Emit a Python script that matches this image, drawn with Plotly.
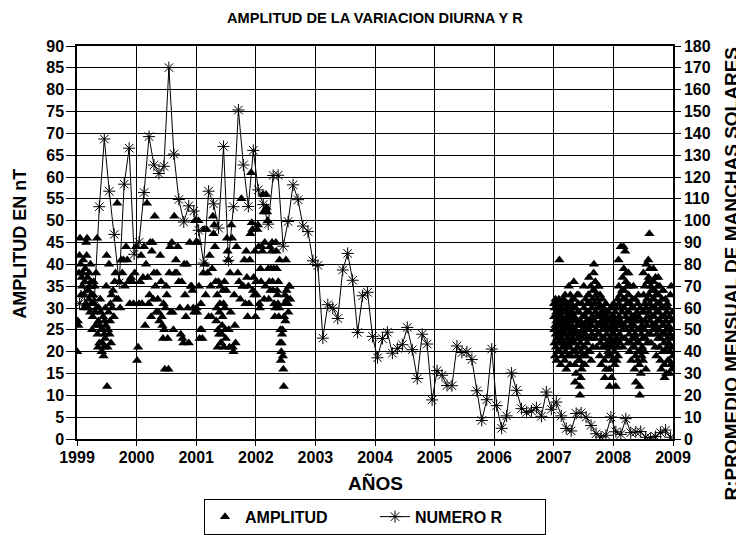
import plotly.graph_objects as go

# ---------------- DATA ----------------
# Monthly sunspot number R (Jan 1999 .. Dec 2008)
r_1999 = [62.0, 66.3, 68.9, 63.9, 106.4, 137.4, 113.5, 93.7, 71.5, 116.7, 133.2, 84.6]
r_2000 = [90.1, 112.9, 138.5, 125.5, 121.6, 124.9, 170.1, 130.5, 109.7, 99.4, 106.8, 104.4]
r_2001 = [95.6, 80.6, 113.5, 107.7, 96.6, 134.0, 81.8, 106.4, 150.7, 125.5, 106.5, 132.2]
r_2002 = [114.1, 107.4, 98.4, 120.7, 120.8, 88.3, 99.6, 116.4, 109.6, 97.5, 95.0, 81.6]
r_2003 = [79.5, 46.2, 61.5, 60.0, 55.2, 77.4, 85.0, 72.7, 48.8, 65.6, 67.2, 47.0]
r_2004 = [37.2, 46.0, 48.9, 39.3, 41.5, 43.2, 51.1, 40.9, 27.7, 48.0, 43.5, 17.9]
r_2005 = [31.3, 29.2, 24.5, 24.4, 42.6, 39.6, 39.9, 36.4, 22.1, 8.5, 18.0, 41.2]
r_2006 = [15.3, 4.9, 10.6, 30.2, 22.3, 13.9, 12.2, 12.9, 14.4, 10.4, 21.5, 13.6]
r_2007 = [16.9, 10.6, 4.8, 3.7, 11.7, 12.0, 10.0, 6.2, 2.4, 0.9, 1.7, 10.1]
r_2008 = [3.3, 2.1, 9.3, 2.9, 3.2, 3.4, 0.8, 0.5, 1.1, 2.9, 4.1, 0.8]
r_years = [1999, 2000, 2001, 2002, 2003, 2004, 2005, 2006, 2007, 2008]
r_series = [r_1999, r_2000, r_2001, r_2002, r_2003, r_2004, r_2005, r_2006, r_2007, r_2008]

# Daily amplitude of the diurnal variation (nT), grouped by month (one list per month)
amp_1999 = [
    [20, 27, 26, 38, 42, 46, 40, 33, 37],
    [35, 38, 41, 33, 30, 36, 39, 31, 45, 42],
    [46, 37, 34, 30, 32, 38, 35, 29, 40, 36, 31, 33],
    [25, 28, 33, 36, 31, 35, 29, 26, 38, 30],
    [46, 24, 21, 27, 30, 22, 26, 32, 29, 25, 20],
    [20, 22, 25, 28, 19, 21, 24, 27, 23, 30, 26, 35, 42],
    [12, 21, 25, 29, 40, 24, 27, 31, 22, 33],
    [30, 34, 28, 36, 38, 32],
    [54, 32, 36, 30, 41],
    [38, 41, 35, 44],
    [41, 36, 31, 37],
    [36, 31, 38, 44],
]
amp_2000 = [
    [18, 21, 31, 36, 42],
    [31, 37, 44, 26, 40],
    [54, 37, 31, 33, 45, 28],
    [43, 45, 32, 38, 51, 35, 29],
    [38, 32, 29, 27, 42, 36],
    [28, 26, 23, 31, 25, 16, 30, 35],
    [33, 23, 16, 38, 44, 29],
    [45, 29, 25, 51, 38, 41],
    [38, 44, 36, 30, 24],
    [36, 23, 22, 40, 33, 28],
    [40, 30, 22, 45, 35],
    [35, 34, 30, 29, 50, 45],
]
amp_2001 = [
    [30, 29, 45, 50, 35, 23, 25, 31],
    [25, 23, 38, 48, 40, 33],
    [48, 38, 28, 42, 35],
    [28, 39, 51, 47, 49, 44, 36],
    [27, 30, 33, 21, 25, 36, 24, 29, 31, 35, 22],
    [22, 24, 26, 28, 34, 31, 21, 36, 30, 25, 23],
    [34, 46, 43, 41, 25, 21, 38, 29],
    [49, 46, 21, 20, 33, 26, 22],
    [44, 38, 36, 32],
    [55, 35, 35, 41, 31],
    [43, 37, 28, 35, 31, 41, 47],
    [61, 49.5, 48, 34, 37, 33, 43, 28],
]
amp_2002 = [
    [36, 33, 48, 49, 44, 31, 30, 39],
    [36, 44, 43, 56, 52, 32, 45, 35],
    [56, 53, 52, 50, 39, 32, 36, 44, 34],
    [39, 43, 45, 36, 34, 39, 31, 28, 30],
    [45, 43, 39, 34, 33, 31, 36, 28, 30, 41, 22, 25],
    [18, 20, 22, 24, 25, 19, 16, 12, 28, 31, 33, 27],
    [41, 34, 32, 31, 29, 35, 35, 32],
]
amp_2007 = [
    [31, 28, 25, 22, 30, 19, 26, 32, 24, 21, 29, 27, 18, 23, 31, 25, 20, 28, 24, 30, 22, 26],
    [32, 29, 41, 24, 20, 27, 31, 17, 22, 26, 30, 23, 28, 19, 25, 21, 29, 24, 27, 32],
    [31, 26, 22, 18, 29, 33, 24, 20, 27, 30, 16, 25, 21, 28, 23, 31, 19, 26, 29, 22],
    [35, 30, 27, 24, 21, 17, 33, 28, 25, 19, 31, 22, 26, 29, 23, 32, 20, 27, 24, 30],
    [36, 32, 28, 22, 17, 13, 25, 30, 20, 15, 27, 24, 19, 33, 26, 21, 29, 23, 31, 18],
    [33, 29, 24, 18, 12, 10, 22, 27, 14, 20, 26, 31, 16, 23, 19, 25, 28, 21, 17, 24],
    [35, 30, 26, 21, 17, 28, 24, 32, 19, 23, 29, 27, 22, 25, 31, 20, 33, 26],
    [33, 37, 29, 25, 20, 31, 27, 23, 35, 18, 26, 30, 24, 28, 32, 21, 34, 27],
    [38, 40, 34, 31, 27, 23, 36, 29, 25, 33, 21, 28, 30, 26, 32, 24, 35, 28],
    [35, 31, 28, 24, 19, 33, 26, 22, 30, 17, 27, 29, 23, 25, 32, 21, 28, 26],
    [30, 27, 23, 18, 14, 25, 29, 21, 31, 16, 26, 24, 22, 28, 19, 27, 25, 20],
    [29, 25, 21, 16, 12, 27, 23, 30, 19, 26, 22, 14, 24, 28, 18, 25, 21, 27],
]
amp_2008 = [
    [31, 28, 24, 20, 17, 26, 29, 22, 12, 25, 30, 18, 23, 27, 21, 32, 19, 26],
    [41, 35, 31, 28, 24, 22, 33, 27, 44, 30, 26, 23, 29, 34, 25, 37, 21, 32],
    [44, 39, 34, 30, 26, 23, 43, 32, 28, 36, 25, 38, 31, 27, 35, 29, 22, 33],
    [38, 33, 29, 24, 20, 35, 27, 31, 22, 26, 18, 30, 25, 28, 23, 32, 21, 27],
    [35, 30, 26, 21, 16, 28, 24, 32, 19, 13, 23, 27, 22, 29, 25, 18, 31, 20],
    [33, 28, 22, 17, 12, 10, 25, 30, 20, 15, 27, 24, 19, 26, 21, 29, 23, 18],
    [38, 33, 29, 25, 20, 35, 31, 27, 23, 16, 30, 40, 26, 32, 22, 28, 36, 24],
    [41, 37, 33, 29, 47, 39, 31, 27, 24, 35, 22, 30, 34, 28, 26, 36, 32, 25],
    [39, 36, 32, 28, 25, 34, 30, 21, 37, 26, 33, 19, 29, 24, 31, 27, 35, 23],
    [37, 33, 29, 25, 21, 35, 31, 27, 18, 23, 30, 16, 28, 24, 32, 26, 20, 34],
    [34, 30, 26, 22, 17, 14, 28, 24, 32, 20, 27, 15, 25, 29, 21, 31, 23, 18],
    [30, 26, 22, 18, 15, 28, 24, 20, 33, 17, 25, 35, 21, 27, 16, 23, 29, 19],
]
amp_years = [1999, 2000, 2001, 2002, 2007, 2008]
amp_series = [amp_1999, amp_2000, amp_2001, amp_2002, amp_2007, amp_2008]

title_text = "AMPLITUD DE LA VARIACION DIURNA Y R"
x_title = "AÑOS"
y_title = "AMPLITUD EN nT"
y2_title = "R:PROMEDIO MENSUAL DE MANCHAS SOLARES"

# ---------------- BUILD ----------------
r_x, r_y = [], []
for yr, vals in zip(r_years, r_series):
    for m, v in enumerate(vals):
        r_x.append(yr + (m + 0.5) / 12)
        r_y.append(v)

a_x, a_y = [], []
for yr, months in zip(amp_years, amp_series):
    for m, days in enumerate(months):
        n = len(days)
        for i, v in enumerate(days):
            a_x.append(yr + (m + (i + 0.5) / n) / 12)
            a_y.append(v)

FONT = "Liberation Sans"
fig = go.Figure()
fig.add_trace(go.Scatter(
    x=a_x, y=a_y, mode="markers", name="AMPLITUD",
    marker=dict(symbol="triangle-up", size=9, color="black"),
    yaxis="y",
))
fig.add_trace(go.Scatter(
    x=r_x, y=r_y, mode="lines+markers", name="NUMERO R",
    line=dict(color="black", width=1),
    marker=dict(symbol="asterisk-open", size=10, color="black",
                line=dict(color="black", width=1)),
    yaxis="y2",
))

axis_common = dict(showline=True, linecolor="black", linewidth=1.5,
                   ticks="outside", tickcolor="black", automargin=False,
                   tickfont=dict(family=FONT, size=16, color="black", weight="bold"),
                   zeroline=False)

# the page body has an 8 px default margin, so the figure is offset by 8 px;
# the figure is taller than the window so the legend box is cut at the bottom edge
fig.update_layout(
    width=736, height=570,
    margin=dict(l=69, r=71, t=38, b=139),
    paper_bgcolor="white", plot_bgcolor="white",
    font=dict(family=FONT, color="black", weight="bold"),
    showlegend=True,
    legend=dict(orientation="h", x=0.5, xanchor="center", y=-0.152, yanchor="top",
                bordercolor="black", borderwidth=1,
                font=dict(family=FONT, size=16, color="black", weight="bold"),
                entrywidth=125),
    xaxis=dict(range=[1999, 2009], tick0=1999, dtick=1, mirror=True,
               showgrid=True, gridcolor="black", gridwidth=1, ticklen=5,
               ticklabelstandoff=-2, **axis_common),
    yaxis=dict(range=[0, 90], tick0=0, dtick=5, mirror=False,
               showgrid=True, gridcolor="black", gridwidth=1, ticklen=9,
               ticklabelstandoff=-1, **axis_common),
    yaxis2=dict(range=[0, 180], tick0=0, dtick=10, overlaying="y", side="right",
                showgrid=False, ticklen=6, **axis_common),
    annotations=[
        dict(text=title_text, x=0.5, y=1.0706, xref="paper", yref="paper",
             xanchor="center", yanchor="middle",
             showarrow=False, font=dict(family=FONT, size=14.6, weight="bold")),
        dict(text=x_title, x=0.5, y=-0.112, xref="paper", yref="paper",
             xanchor="center", yanchor="middle",
             showarrow=False, font=dict(family=FONT, size=19, weight="bold")),
        dict(text=y_title, x=-0.0956, y=0.497, xref="paper", yref="paper",
             xanchor="center", yanchor="middle",
             textangle=-90, showarrow=False, font=dict(family=FONT, size=18, weight="bold")),
        dict(text=y2_title, x=1.099, y=0.421, xref="paper", yref="paper",
             xanchor="center", yanchor="middle",
             textangle=-90, showarrow=False, font=dict(family=FONT, size=19, weight="bold")),
    ],
)

fig.write_html("out.html")
